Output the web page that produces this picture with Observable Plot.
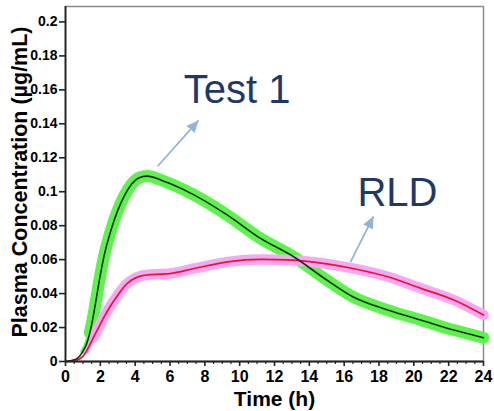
<!DOCTYPE html>
<html>
<head>
<meta charset="utf-8">
<script src="https://cdn.jsdelivr.net/npm/d3@7"></script>
<script src="https://cdn.jsdelivr.net/npm/@observablehq/plot@0.6"></script>
<style>
  html, body { margin: 0; padding: 0; background: #fff; }
</style>
</head>
<body>
<div id="chart"></div>
<script>
// Time points (h)
const time  = [0, 0.5, 0.7, 1.0, 1.2, 1.4, 1.6, 1.8, 2.0, 2.2, 2.6, 3.0, 3.4, 3.8, 4.3, 4.7, 5.5, 6.0, 7.4, 9.3, 11.2, 13.1, 15.0, 16.5, 18.5, 20.4, 22.3, 24];
// Mean plasma concentration (µg/mL)
const test1 = [0, 0.001, 0.002, 0.006, 0.010, 0.017, 0.027, 0.039, 0.051, 0.0615, 0.077, 0.089, 0.098, 0.1045, 0.1085, 0.1092, 0.1068, 0.1048, 0.098, 0.0862, 0.0725, 0.0617, 0.048, 0.0381, 0.0303, 0.0244, 0.0185, 0.0140];
const rld   = [0, 0.0005, 0.001, 0.003, 0.006, 0.010, 0.014, 0.018, 0.022, 0.026, 0.033, 0.039, 0.0445, 0.048, 0.0503, 0.051, 0.0515, 0.0518, 0.0548, 0.0587, 0.0601, 0.0597, 0.0575, 0.0548, 0.0499, 0.0431, 0.0362, 0.0274];

// Axis ticks
const xTicks = [0, 2, 4, 6, 8, 10, 12, 14, 16, 18, 20, 22, 24];
const xMinorTicks = [0.5, 1, 1.5, 2.5, 3, 3.5, 4.5, 5, 5.5, 6.5, 7, 7.5, 8.5, 9, 9.5, 10.5, 11, 11.5, 12.5, 13, 13.5, 14.5, 15, 15.5, 16.5, 17, 17.5, 18.5, 19, 19.5, 20.5, 21, 21.5, 22.5, 23, 23.5];
const yTicks = [0, 0.02, 0.04, 0.06, 0.08, 0.1, 0.12, 0.14, 0.16, 0.18, 0.2];

// Annotations (data coordinates)
const labelText = ["Test 1", "RLD"];
const labelX = [6.79, 16.76];
const labelY = [0.152, 0.0915];
const arrowX1 = [5.29, 16.36];
const arrowY1 = [0.115, 0.0585];
const arrowX2 = [7.64, 17.68];
const arrowY2 = [0.142, 0.0855];

const t1 = time.map((t, i) => ({t, c: test1[i]}));
const r1 = time.map((t, i) => ({t, c: rld[i]}));
const labels = labelText.map((s, i) => ({s, x: labelX[i], y: labelY[i]}));
const arrows = arrowX1.map((x1, i) => ({x1, y1: arrowY1[i], x2: arrowX2[i], y2: arrowY2[i]}));

const green = "#5ef24c", pink = "#f5a8f3", red = "#ee1133", dark = "#1d2b1d";
const arrowColor = "#95b3d7", navy = "#1f3864";
const font = "'Liberation Sans', Arial, sans-serif";

const chart = Plot.plot({
  width: 494,
  height: 411,
  marginLeft: 65,
  marginRight: 11,
  marginTop: 6,
  marginBottom: 50,
  style: {fontFamily: font, background: "#fff", color: "#000"},
  x: {domain: [0, 24], label: null, axis: null},
  y: {domain: [0, 0.2091], label: null, axis: null},
  marks: [
    Plot.frame({stroke: "#8a8a8a", strokeWidth: 1.5}),
    // bands
    Plot.line(t1.filter(d => d.t >= 1.0), {x: "t", y: "c", stroke: green, strokeWidth: 5, curve: "monotone-x"}),
    Plot.line(t1.filter(d => d.t >= 1.4), {x: "t", y: "c", stroke: green, strokeWidth: 12, curve: "monotone-x"}),
    Plot.line(r1.filter(d => d.t >= 1.2), {x: "t", y: "c", stroke: pink, strokeWidth: 5, curve: "monotone-x"}),
    Plot.line(r1.filter(d => d.t >= 1.6), {x: "t", y: "c", stroke: pink, strokeWidth: 10.5, curve: "monotone-x"}),
    // means
    Plot.line(r1, {x: "t", y: "c", stroke: red, strokeWidth: 1.7, curve: "monotone-x"}),
    Plot.line(t1, {x: "t", y: "c", stroke: dark, strokeWidth: 1.6, curve: "monotone-x"}),
    // axes lines and ticks
    Plot.ruleX([0], {stroke: "#222", strokeWidth: 1.8}),
    Plot.ruleY([0], {stroke: "#222", strokeWidth: 1.8}),
    Plot.axisX({ticks: xMinorTicks, tickSize: 3, text: null, strokeWidth: 1.2, stroke: "#222", label: null}),
    Plot.axisX({ticks: xTicks, tickSize: 5, text: null, strokeWidth: 1.6, stroke: "#222", label: null}),
    Plot.axisY({ticks: yTicks, tickSize: 6, text: null, strokeWidth: 1.6, stroke: "#222", label: null}),
    // tick labels
    Plot.text(xTicks, {x: d => d, frameAnchor: "bottom", lineAnchor: "top", dy: 9, fontSize: 16, fontWeight: "bold", fill: "#000", text: d => String(d)}),
    Plot.text(yTicks, {y: d => d, frameAnchor: "left", textAnchor: "end", dx: -8, fontSize: 14, fontWeight: "bold", fill: "#000", text: d => String(+d.toFixed(2))}),
    // axis titles
    Plot.text(["Time (h)"], {frameAnchor: "bottom", lineAnchor: "bottom", dy: 44, fontSize: 21, fontWeight: "bold", fill: "#000"}),
    Plot.text(["Plasma Concentration (µg/mL)"], {frameAnchor: "left", textAnchor: "middle", lineAnchor: "middle", dx: -45, dy: -2, rotate: -90, fontSize: 21.5, fontWeight: "bold", fill: "#000"}),
    // annotations
    Plot.link(arrows, {x1: "x1", y1: "y1", x2: "x2", y2: "y2", stroke: arrowColor, strokeWidth: 1.8, markerEnd: "arrow"}),
    Plot.text(labels, {x: "x", y: "y", text: "s", textAnchor: "start", lineAnchor: "bottom", fontSize: 40, fill: navy})
  ]
});

// filled arrowheads
d3.select(chart).selectAll("marker").each(function () {
  const m = d3.select(this);
  m.attr("viewBox", "-12 -6 12 12").attr("markerWidth", 12).attr("markerHeight", 12)
   .attr("markerUnits", "userSpaceOnUse").attr("refX", 0).attr("refY", 0);
  m.selectAll("*").remove();
  m.append("path").attr("d", "M-12,-5.5L0,0L-12,5.5Z").attr("fill", arrowColor).attr("stroke", "none");
});

document.getElementById("chart").appendChild(chart);
</script>
</body>
</html>
